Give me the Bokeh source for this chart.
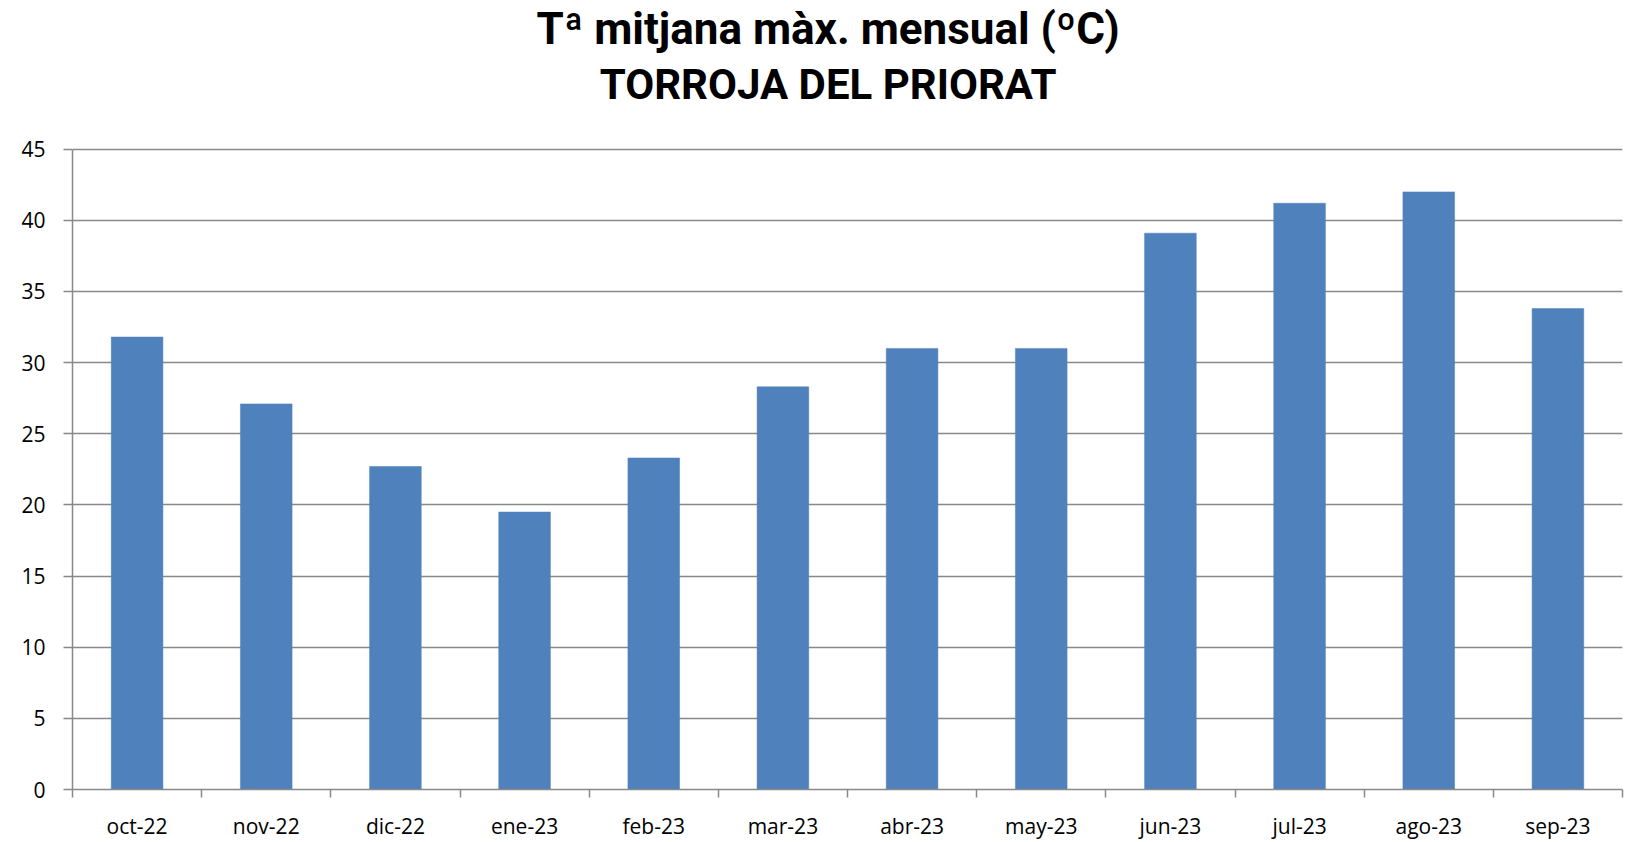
from bokeh.plotting import figure
from bokeh.models import FixedTicker, Range1d, Label, ColumnDataSource
from bokeh.embed import file_html
from bokeh.resources import INLINE

months = ["oct-22", "nov-22", "dic-22", "ene-23", "feb-23", "mar-23",
          "abr-23", "may-23", "jun-23", "jul-23", "ago-23", "sep-23"]
tmax = [31.8, 27.1, 22.7, 19.5, 23.3, 28.3, 31.0, 31.0, 39.1, 41.2, 42.0, 33.8]
y_ticks = [0, 5, 10, 15, 20, 25, 30, 35, 40, 45]
title_main = "Tª mitjana màx. mensual (ºC)"
title_sub = "TORROJA DEL PRIORAT"

n = len(months)
xc = [i + 0.5 for i in range(n)]
bounds = list(range(n + 1))
src = ColumnDataSource(dict(x=xc, top=tmax, label=months))

FONT = "Open Sans"
TFONT = "Roboto"
GRAY = "#898989"

# frame spans the full height; the space above 45 holds the titles
Y_TOP = 55.45
p = figure(width=1635, height=842, x_range=Range1d(0, n), y_range=Range1d(0, Y_TOP),
           output_backend="svg", toolbar_location=None,
           min_border_left=72, min_border_right=13, min_border_bottom=52, min_border_top=0)
p.title = None
p.outline_line_color = None
p.background_fill_color = "white"
p.border_fill_color = "white"

p.vbar(x="x", top="top", bottom=0, width=0.4, source=src,
       fill_color="#4F81BD", line_color="#4F81BD", line_width=0.5)

# axes
p.xaxis.ticker = FixedTicker(ticks=xc, minor_ticks=bounds)
p.xaxis.major_label_overrides = {x: m for x, m in zip(xc, months)}
p.xaxis.major_tick_out = 0
p.xaxis.major_tick_in = 0
p.xaxis.minor_tick_out = 8
p.xaxis.minor_tick_in = 0
p.xaxis.minor_tick_line_color = GRAY
p.xaxis.minor_tick_line_width = 1.5
p.xaxis.major_label_standoff = 14

p.yaxis.ticker = FixedTicker(ticks=y_ticks, minor_ticks=[])
p.yaxis.bounds = (min(y_ticks), max(y_ticks))
p.yaxis.major_tick_out = 9
p.yaxis.major_tick_in = 0
p.yaxis.major_tick_line_color = GRAY
p.yaxis.major_tick_line_width = 1.5
p.yaxis.minor_tick_line_color = None
p.yaxis.major_label_standoff = 18

for ax in (p.xaxis, p.yaxis):
    ax.axis_line_color = GRAY
    ax.axis_line_width = 1.5
    ax.major_label_text_font = FONT
    ax.major_label_text_font_size = "21px"
    ax.major_label_text_color = "black"

p.xgrid.grid_line_color = None
p.ygrid.ticker = FixedTicker(ticks=y_ticks)
p.ygrid.grid_line_color = GRAY
p.ygrid.grid_line_width = 1.5

# titles
p.add_layout(Label(x=5.85, y=53.42, text=title_main,
                   text_align="center", text_baseline="alphabetic", text_font=TFONT,
                   text_font_size="44px", text_font_style="bold", text_color="black"))
p.add_layout(Label(x=5.85, y=49.52, text=title_sub,
                   text_align="center", text_baseline="alphabetic", text_font=TFONT,
                   text_font_size="42px", text_font_style="bold", text_color="black"))

open("out.html", "w").write(file_html(p, INLINE))
